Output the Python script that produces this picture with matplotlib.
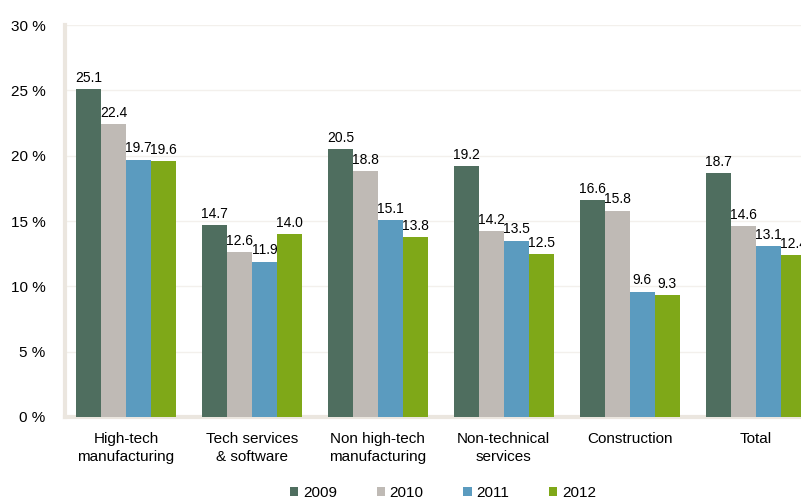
import matplotlib.pyplot as plt
import numpy as np

plt.rcParams['font.family'] = ['Liberation Sans', 'DejaVu Sans']

categories = ['High-tech\nmanufacturing', 'Tech services\n& software', 'Non high-tech\nmanufacturing',
              'Non-technical\nservices', 'Construction', 'Total']
years = ['2009', '2010', '2011', '2012']
v2009 = [25.1, 14.7, 20.5, 19.2, 16.6, 18.7]
v2010 = [22.4, 12.6, 18.8, 14.2, 15.8, 14.6]
v2011 = [19.7, 11.9, 15.1, 13.5, 9.6, 13.1]
v2012 = [19.6, 14.0, 13.8, 12.5, 9.3, 12.4]
colors = ['#4f6e5f', '#bfbab5', '#5b9bbf', '#7fa818']

fig = plt.figure(figsize=(8.01, 5.01), dpi=100)
ax = fig.add_axes([0.0811, 0.1677, 0.9189, 0.7823])

x = np.arange(len(categories))
width = 0.198
for i, (vals, year) in enumerate(zip([v2009, v2010, v2011, v2012], years)):
    pos = x + (i - 1.5) * width
    bars = ax.bar(pos, vals, width, color=colors[i], label=year, zorder=3)
    for b, v in zip(bars, vals):
        ax.annotate(f'{v:.1f}', (b.get_x() + b.get_width() / 2, v), xytext=(0, 3),
                    textcoords='offset points', ha='center', va='bottom', fontsize=10)

ax.set_xlim(-0.484, 5.36)
ax.set_ylim(0, 30)
ax.set_yticks(range(0, 31, 5))
ax.set_yticklabels([f'{t} %' for t in range(0, 31, 5)], fontsize=11)
ax.set_xticks(x)
ax.set_xticklabels(categories, fontsize=11, linespacing=1.35)
ax.tick_params(axis='y', length=0, pad=14)
ax.tick_params(axis='x', length=0, pad=11)
ax.grid(axis='y', color='#f3f0ec', linewidth=1, zorder=0)

for s in ['top', 'right']:
    ax.spines[s].set_visible(False)
for s in ['left', 'bottom']:
    ax.spines[s].set_color('#ebe6df')
    ax.spines[s].set_linewidth(3)

fig.legend(loc='lower center', bbox_to_anchor=(0.553, -0.025), ncol=4, frameon=False,
           fontsize=11, handlelength=0.55, handleheight=0.55, columnspacing=2.6, handletextpad=0.3)

fig.savefig('out.png', dpi=100)
